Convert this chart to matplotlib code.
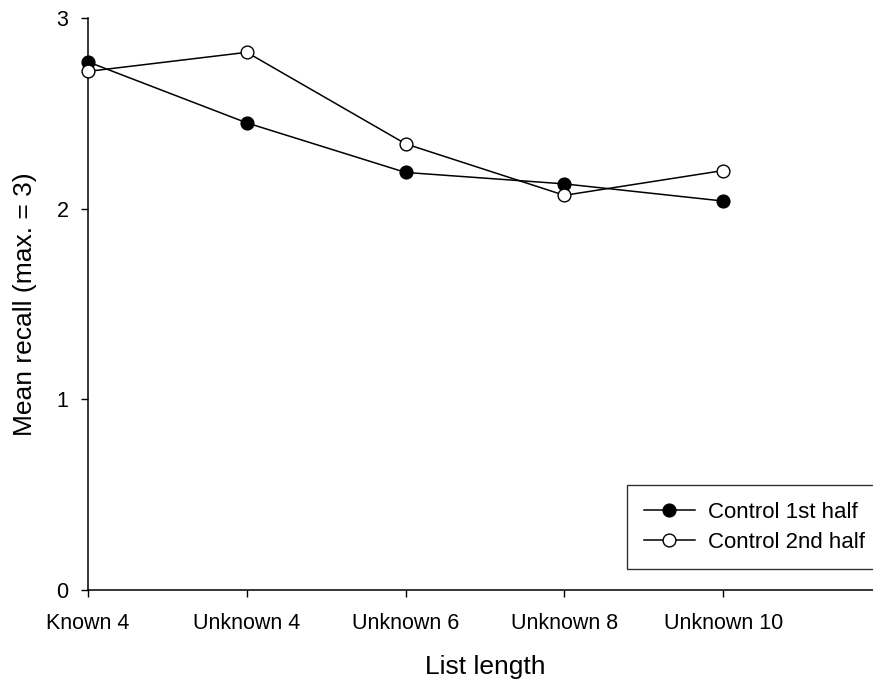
"""
Mean recall by list length, control group, first vs second half.
"""

import matplotlib
matplotlib.use("Agg")
import matplotlib.pyplot as plt

plt.rcParams["font.family"] = ["Liberation Sans", "DejaVu Sans"]

list_lengths = ["Known 4", "Unknown 4", "Unknown 6", "Unknown 8", "Unknown 10"]
control_1st_half = [2.77, 2.45, 2.19, 2.13, 2.04]
control_2nd_half = [2.72, 2.82, 2.34, 2.07, 2.20]

fig = plt.figure(figsize=(8.73, 6.92), dpi=100)
ax = fig.add_axes([88 / 873, 102 / 692, 794 / 873, 572 / 692])

xs = list(range(len(list_lengths)))
ax.plot(xs, control_1st_half, color="black", lw=1.1, marker="o", ms=9.2,
        mfc="black", mec="black", mew=1.0, clip_on=False, zorder=3,
        label="Control 1st half")
ax.plot(xs, control_2nd_half, color="black", lw=1.1, marker="o", ms=9.2,
        mfc="white", mec="black", mew=1.0, clip_on=False, zorder=4,
        label="Control 2nd half")

ax.set_xlim(0, 5)
ax.set_ylim(0, 3)
ax.set_xticks(xs)
ax.set_xticklabels(list_lengths)
ax.set_yticks([0, 1, 2, 3])
ax.tick_params(direction="out", length=5, width=1, labelsize=15.5)
ax.tick_params(axis="x", pad=11.5)
ax.tick_params(axis="y", pad=9)
for side in ("top", "right"):
    ax.spines[side].set_visible(False)
for side in ("left", "bottom"):
    ax.spines[side].set_linewidth(1.1)

ax.set_xlabel("List length", fontsize=19, labelpad=15)
ax.set_ylabel("Mean recall (max. = 3)", fontsize=19, labelpad=14)

leg = ax.legend(loc="upper left", bbox_to_anchor=(627 / 873, 1 - 485 / 692),
                bbox_transform=fig.transFigure, fontsize=16, frameon=True,
                fancybox=False, edgecolor="black", handlelength=2.3,
                handletextpad=0.6, borderpad=0.75, labelspacing=0.4,
                borderaxespad=0)
leg.get_frame().set_linewidth(1.0)

fig.savefig("out.png", dpi=100)
